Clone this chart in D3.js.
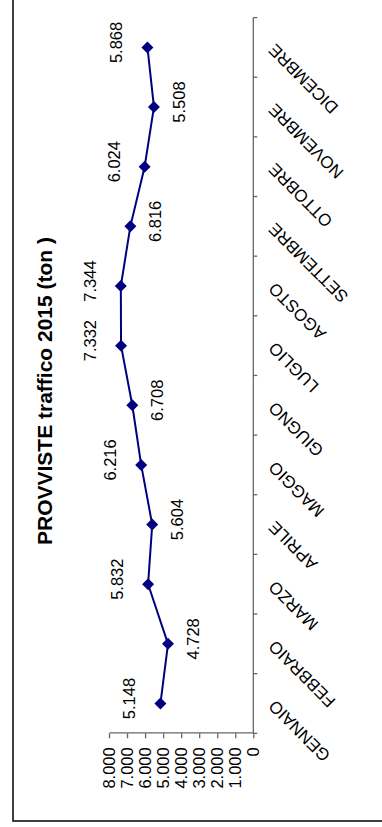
<!DOCTYPE html>
<html>
<head>
<meta charset="utf-8">
<script src="https://cdn.jsdelivr.net/npm/d3@7"></script>
<style>
  body { margin: 0; background: #fff; }
  text { font-family: "Liberation Sans", Arial, sans-serif; }
</style>
</head>
<body>
<svg id="container"></svg>
<script>
// data
const months = ["GENNAIO", "FEBBRAIO", "MARZO", "APRILE", "MAGGIO", "GIUGNO",
                "LUGLIO", "AGOSTO", "SETTEMBRE", "OTTOBRE", "NOVEMBRE", "DICEMBRE"];
const values = [5148, 4728, 5832, 5604, 6216, 6708, 7332, 7344, 6816, 6024, 5508, 5868];
const labelSide = ["above", "below", "above", "below", "above", "below",
                   "above", "above", "below", "above", "below", "above"];
const yTicks = [0, 1000, 2000, 3000, 4000, 5000, 6000, 7000, 8000];
const title = "PROVVISTE traffico 2015 (ton )";

let width = 382, height = 827;

let svg = d3.select("#container")
    .attr("width", width)
    .attr("height", height);

// the chart is drawn unrotated (827 wide x 382 high) then turned a quarter left
let g = svg.append("g")
    .attr("transform", "translate(0," + height + ") rotate(-90)");

// chart border (runs past the page on two sides)
g.append("rect")
    .attr("x", 6).attr("y", 13)
    .attr("width", 900).attr("height", 420)
    .attr("fill", "none")
    .attr("stroke", "#000")
    .attr("stroke-width", 1.5);

const xScale = d3.scaleBand()
    .domain(months)
    .range([93.7, 809.4]);

const yScale = d3.scaleLinear()
    .domain([0, 8000])
    .range([253.3, 109]);

// title
g.append("text")
    .attr("x", 436)
    .attr("y", 52)
    .attr("text-anchor", "middle")
    .style("font-size", "21px")
    .style("font-weight", "bold")
    .text(title);

// value axis
let yAxis = g.append("g")
    .attr("transform", "translate(" + xScale.range()[0] + ",0)")
    .call(d3.axisLeft(yScale)
        .tickValues(yTicks)
        .tickSize(5)
        .tickSizeOuter(0)
        .tickPadding(9)
        .tickFormat(d => d === 0 ? "0" : d3.format(",")(d).replace(",", ".")));
yAxis.selectAll("text").style("font-size", "16.5px").attr("fill", "#000").attr("font-family", null);
yAxis.selectAll("line, path").attr("stroke", "#666").attr("stroke-width", 1.3);

// category axis
let xAxis = g.append("g")
    .attr("transform", "translate(0," + yScale(0) + ")");
xAxis.append("line")
    .attr("x1", xScale.range()[0]).attr("x2", xScale.range()[1])
    .attr("stroke", "#666").attr("stroke-width", 1.3);
xAxis.selectAll(".tick")
    .data(d3.range(months.length + 1))
    .enter()
    .append("line")
        .attr("x1", i => xScale.range()[0] + i * xScale.step())
        .attr("x2", i => xScale.range()[0] + i * xScale.step())
        .attr("y1", 0).attr("y2", 4)
        .attr("stroke", "#666").attr("stroke-width", 1.3);
xAxis.selectAll(".lab")
    .data(months)
    .enter()
    .append("text")
        .attr("transform", d => "translate(" + (xScale(d) + xScale.bandwidth() / 2 - 4) + ",14) rotate(-45)")
        .attr("text-anchor", "end")
        .attr("dy", "0.7em")
        .style("font-size", "17px")
        .text(d => d);

// line + markers
const points = months.map((m, i) => ({ month: m, value: values[i], side: labelSide[i] }));
const cx = d => xScale(d.month) + xScale.bandwidth() / 2;

g.append("path")
    .datum(points)
    .attr("fill", "none")
    .attr("stroke", "#000080")
    .attr("stroke-width", 2)
    .attr("d", d3.line().x(cx).y(d => yScale(d.value)));

g.selectAll(".marker")
    .data(points)
    .enter()
    .append("path")
        .attr("transform", d => "translate(" + cx(d) + "," + yScale(d.value) + ")")
        .attr("d", "M0,-6L6,0L0,6L-6,0Z")
        .attr("fill", "#000080");

// data labels
g.selectAll(".dlabel")
    .data(points)
    .enter()
    .append("text")
        .attr("x", d => cx(d) + 5)
        .attr("y", d => yScale(d.value) + (d.side === "above" ? -25 : 31))
        .attr("text-anchor", "middle")
        .style("font-size", "16.5px")
        .text(d => d3.format(",")(d.value).replace(",", "."));
</script>
</body>
</html>
